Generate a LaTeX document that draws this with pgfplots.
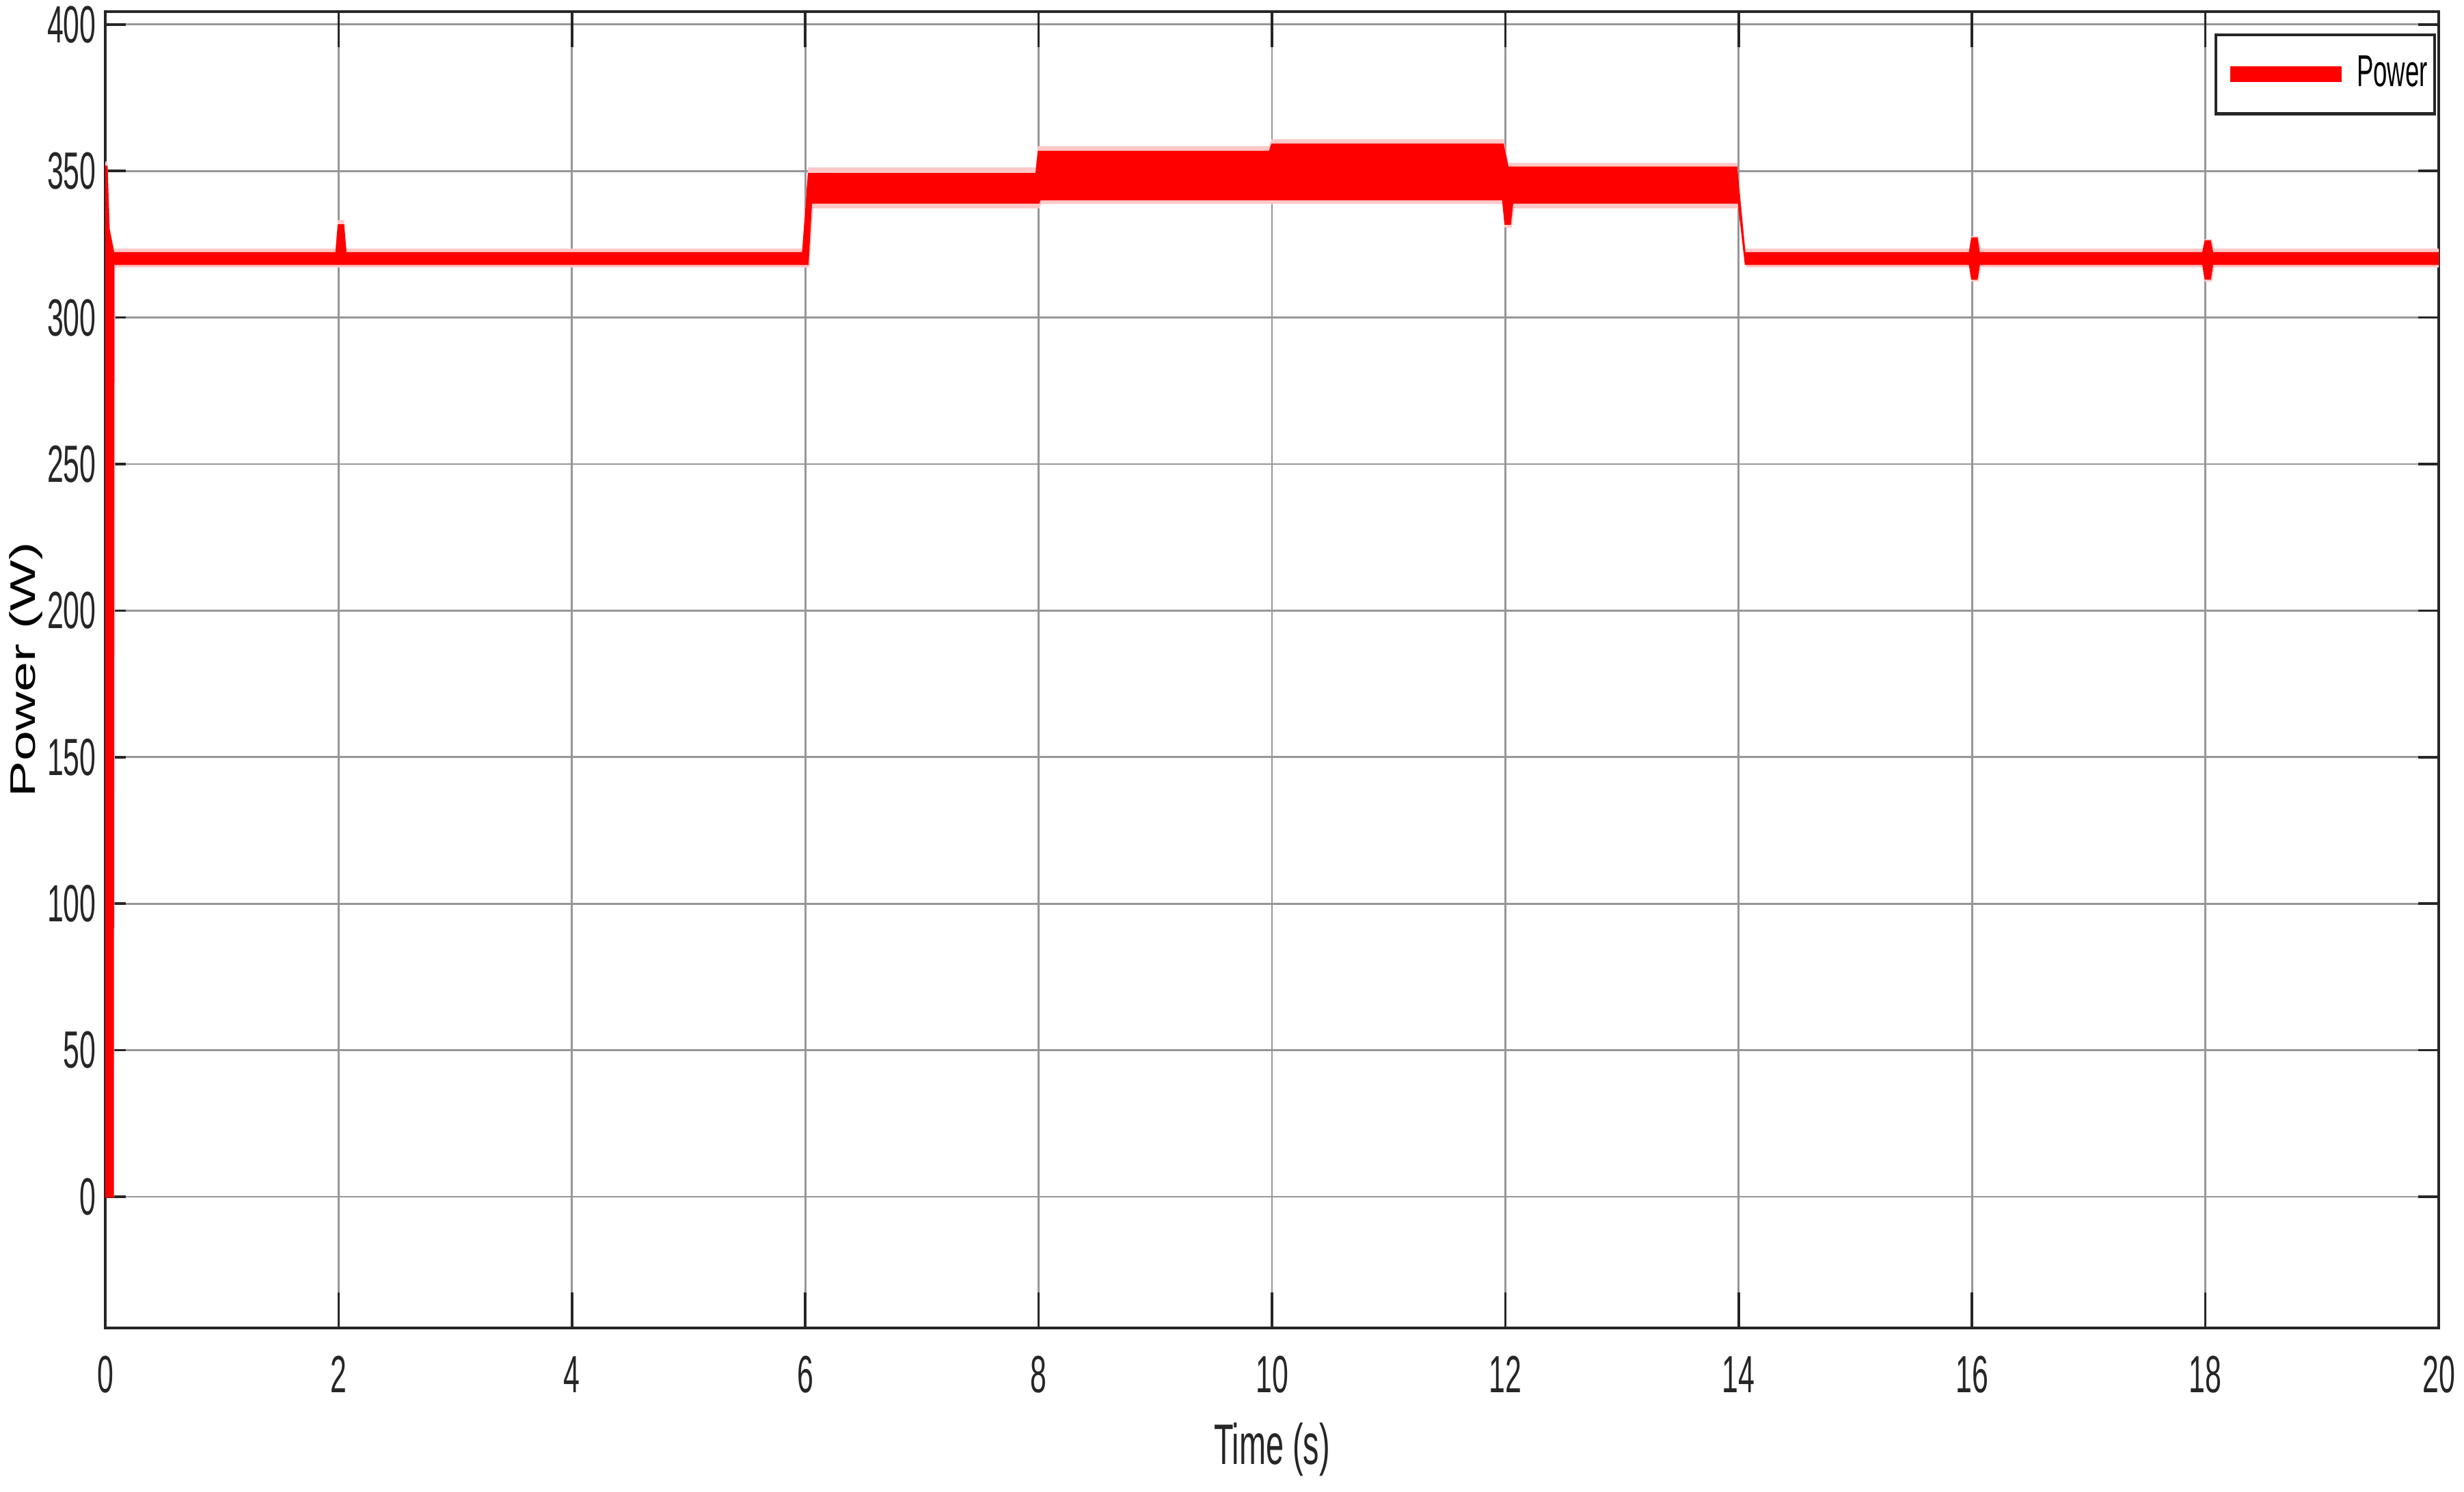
\documentclass[border=0pt]{standalone}
\usepackage{pgfplots}
\pgfplotsset{compat=1.18}
\usepackage{fontspec}
\setmainfont{Liberation Sans}[FakeStretch=0.56]
\newfontfamily\ylabfont{Liberation Sans}[FakeStretch=1.52]
\definecolor{gridgray}{RGB}{150,150,150}
\definecolor{axdark}{RGB}{38,38,38}
\definecolor{plred}{RGB}{255,0,0}
\definecolor{plpink}{RGB}{255,200,200}
\begin{document}
\begin{tikzpicture}
\begin{axis}[
  scale only axis,
  width=17.07cm, height=9.63cm,
  xmin=0, xmax=20, ymin=-44.8, ymax=404.4,
  xtick={0,2,...,20}, ytick={0,50,...,400},
  xtick pos=both, ytick pos=both,
  tick align=inside,
  major tick length=0.15cm,
  xtick style={/pgfplots/major tick length=0.26cm},
  tick style={axdark, line width=0.5pt},
  axis line style={axdark, line width=0.6pt},
  grid=major,
  major grid style={gridgray, line width=0.4pt},
  /pgf/number format/assume math mode=true,
  tick label style={font=\fontsize{10.9}{12}\selectfont, color=axdark},
  xticklabel style={anchor=center, yshift=-0.34cm},
  yticklabel style={anchor=east, inner sep=0pt, xshift=-0.06cm},
  xlabel={Time (s)},
  ylabel={\ylabfont Power (W)},
  xlabel style={at={(axis description cs:0.5,-0.0924)}, anchor=center, font=\fontsize{11.9}{13}\selectfont, color=axdark},
  ylabel style={at={(axis description cs:-0.034,0.5)}, anchor=center, rotate=0, font=\fontsize{7.4}{9}\selectfont, color=black},
  legend image code/.code={\draw[#1] (0cm,0cm) -- (0.815cm,0cm);},
  legend style={at={(axis description cs:0.9988,0.9834)}, anchor=north east,
    draw=axdark, line width=0.6pt, inner xsep=0.05cm, inner ysep=0.15cm,
    column sep=0.05cm, nodes={inner sep=0pt},
    font=\fontsize{9.3}{10}\selectfont},
]
% outer (light) noise fringe
\addplot[forget plot, fill=plpink, draw=plpink, line width=0.3pt] coordinates {
(0,0) (0.004,353) (0.012,353) (0.03,331) (0.07,323.3)
(1.98,323.3) (2.0,333) (2.04,333) (2.06,323.3)
(5.98,323.3) (6.03,351) (7.98,351)
(8.0,358.3) (9.98,358.3) (10.0,360.6) (11.98,360.6)
(12.02,352.5) (13.98,352.5) (14.05,323.3)
(15.98,323.3) (16.0,327.5) (16.05,327.5) (16.07,323.3)
(17.98,323.3) (18.0,326.5) (18.05,326.5) (18.07,323.3) (20,323.3)
(20,317.3) (18.07,317.3) (18.05,312.5) (18.0,312.5) (17.98,317.3)
(16.07,317.3) (16.05,312.5) (16.0,312.5) (15.98,317.3)
(14.07,317.3) (14.01,337.5) (12.07,337.5) (12.05,331) (12.0,331) (11.98,339)
(10.0,339) (8.02,339) (8.0,337.5) (6.06,337.5) (6.03,317.3)
(0.08,317.3) (0.07,0)
} -- cycle;
% main band
\addplot[forget plot, fill=plred, draw=plred, line width=0.4pt] coordinates {
(0,0) (0.005,351.5) (0.012,351.5) (0.03,330) (0.07,322)
(1.98,322) (2.0,331.5) (2.04,331.5) (2.06,322)
(5.98,322) (6.03,349) (7.98,349)
(8.0,356.6) (9.98,356.6) (10.0,359) (11.98,359)
(12.02,351.2) (13.98,351.2) (14.05,322)
(15.98,322) (16.0,327) (16.04,327) (16.06,322)
(17.98,322) (18.0,326) (18.04,326) (18.06,322) (20,322)
(20,318.3) (18.06,318.3) (18.04,313.3) (18.0,313.3) (17.98,318.3)
(16.06,318.3) (16.04,313.2) (16.0,313.2) (15.98,318.3)
(14.06,318.3) (14.0,339.2) (12.06,339.2) (12.04,332) (12.0,332) (11.98,340.3)
(10.0,340.3) (8.01,340.3) (8.0,339.2) (6.05,339.2) (6.02,318.3)
(0.07,318.3) (0.065,0)
} -- cycle;
\addlegendimage{plred, line width=3.3pt}
\addlegendentry{Power}
\end{axis}
\pgfresetboundingbox
\path (-0.77,-1.195) rectangle (17.255,9.715);
\end{tikzpicture}
\end{document}
